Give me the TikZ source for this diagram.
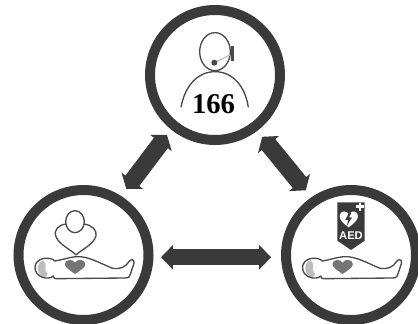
\documentclass[tikz,border=0pt]{standalone}
\usepackage{fontspec}
\setmainfont{Liberation Serif}
\newfontfamily\aedfont{Liberation Sans}
\usetikzlibrary{arrows.meta}
\definecolor{ringgrey}{HTML}{3A3A3A}
\definecolor{linegrey}{HTML}{4A4A4A}
\definecolor{heartgrey}{HTML}{757575}
\definecolor{hairgrey}{HTML}{BDBDBD}

\begin{document}
\begin{tikzpicture}[
  x=.75pt,y=-.75pt,
  ring/.style={draw=ringgrey,circle,line width=7.5pt,minimum size=97.5pt,inner sep=0pt,outer sep=0pt},
  link/.style={draw=ringgrey,line width=12pt,{Triangle[length=9pt,width=18pt]}-{Triangle[length=9pt,width=18pt]}},
  wide link/.style={draw=ringgrey,line width=13pt,{Triangle[length=7.5pt,width=20pt]}-{Triangle[length=7.5pt,width=20pt]}},
  outline/.style={draw=linegrey,line width=1pt,line join=round},
  zoomed/.style={x=.25pt,y=-.25pt},
  pics/patient/.style={code={
    \begin{scope}[zoomed,shift={(-250.5,-255)}]
      \path[fill=hairgrey] (130,271) .. controls (110,276) and (106,305) .. (128,321) .. controls (143,324) and (146,312) .. (138,304) .. controls (131,296) and (144,284) .. (130,271) -- cycle;
      \draw[outline] (165,273) .. controls (150,258) and (105,262) .. (105,293) .. controls (105,322) and (145,332) .. (160,318) .. controls (158,326) and (165,326) .. (175,326) -- (375,324) .. controls (388,324) and (390,318) .. (392,310) -- (402,280) .. controls (404,266) and (392,266) .. (386,276) .. controls (376,292) and (360,298) .. (338,295) .. controls (300,280) and (265,258) .. (230,260) .. controls (205,262) and (185,270) .. (165,273) -- cycle;
      \path[fill=heartgrey] (225,312) .. controls (205,298) and (195,292) .. (195,282) .. controls (195,268) and (218,265) .. (225,278) .. controls (232,265) and (256,268) .. (256,282) .. controls (256,292) and (245,298) .. (225,312) -- cycle;
    \end{scope}
  }}
]
  \path[use as bounding box,clip] (0,0) rectangle (418,324);

  \node[ring] (operator) at (215,75) {};
  \node[ring] (rescuer) at (83.5,255) {};
  \node[ring] (aed) at (351,255) {};

  \draw[wide link,shorten <=8.9pt,shorten >=10.4pt] (operator.231) -- (rescuer.58);
  \draw[wide link,shorten <=9.6pt,shorten >=10.5pt] (operator.307) -- (aed.124);
  \draw[link,shorten <=9.4pt,shorten >=11.2pt] (rescuer.-2) -- (aed.182);

  % operator with headset
  \begin{scope}[shift={(operator)},zoomed,shift={(-255,-225)}]
    \draw[outline] (255,155) ellipse [x radius=46,y radius=57];
    \draw[outline] (153,322) .. controls (165,255) and (205,215) .. (255,215) .. controls (305,215) and (345,255) .. (355,322);
    \draw[draw=hairgrey,line width=.9pt] (253,188) -- (300,165);
    \fill[linegrey] (253,188) circle (9);
    \fill[linegrey] (303,138) rectangle (311,182);
  \end{scope}
  \node[font=\bfseries\fontsize{21.5}{21.5}\selectfont,inner sep=0pt] (dispatch) at (213.5,104) {166};

  % rescuer pressing on the chest
  \pic at (rescuer) {patient};
  \begin{scope}[shift={(rescuer)},zoomed,shift={(-250.5,-255)}]
    \draw[outline] (225,155) ellipse [x radius=28,y radius=33];
    \draw[outline] (198,162) .. controls (175,165) and (160,180) .. (168,200) .. controls (178,225) and (215,240) .. (228,255) .. controls (242,240) and (280,225) .. (288,198) .. controls (292,180) and (275,165) .. (252,162);
  \end{scope}

  % defibrillator above the patient
  \pic at (aed) {patient};
  \begin{scope}[shift={(aed)},zoomed,shift={(-279,-255)}]
    \fill[ringgrey] (238,97) -- (320,97) -- (320,212) -- (279,240) -- (238,212) -- cycle;
    \fill[white] (294,106) rectangle (318,114);
    \fill[white] (302,98) rectangle (310,122);
    \fill[white] (272,172) .. controls (255,160) and (245,150) .. (245,138) .. controls (245,122) and (265,120) .. (272,132) .. controls (280,120) and (300,122) .. (300,138) .. controls (300,150) and (288,160) .. (272,172) -- cycle;
    \fill[ringgrey] (274,126) -- (262,150) -- (271,150) -- (266,168) -- (282,142) -- (273,142) -- (280,128) -- cycle;
  \end{scope}
  \node[font=\aedfont\bfseries\fontsize{8.4}{8.4}\selectfont,text=white,inner sep=0pt] (aedtext) at (351,236) {AED};
\end{tikzpicture}
\end{document}
